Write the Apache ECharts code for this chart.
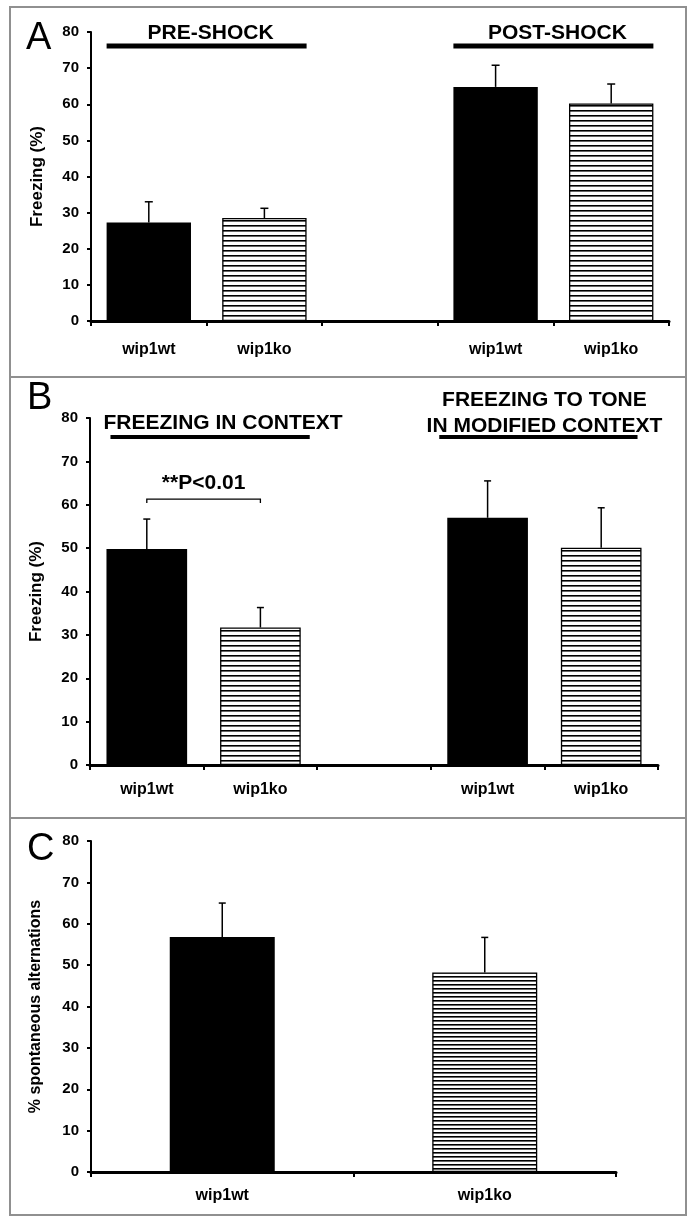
<!DOCTYPE html>
<html><head><meta charset="utf-8">
<script src="https://cdn.jsdelivr.net/npm/echarts@6/dist/echarts.min.js"></script>
<style>html,body{margin:0;padding:0;background:#fff}#c{width:689px;height:1218px}</style>
</head><body><div id="c"></div>
<script>
// ---- data ----
const groupsAB = ['wip1wt', 'wip1ko', '', 'wip1wt', 'wip1ko'];
const groupsC = ['wip1wt', 'wip1ko'];
const yTickLabels = ['0', '10', '20', '30', '40', '50', '60', '70', '80'];
const aMean = [27.3, 28.5, null, 64.8, 60.2];
const aErrTop = [33.0, 31.2, null, 70.8, 65.6];
const bMean = [49.8, 31.7, null, 57.0, 50.1];
const bErrTop = [56.7, 36.3, null, 65.5, 59.3];
const cMean = [56.8, 48.2];
const cErrTop = [65.0, 56.7];
const aHeaders = [[0, 1, 'PRE-SHOCK'], [3, 4, 'POST-SHOCK']];
const bHeaders = [[0, 1, 'FREEZING IN CONTEXT'], [3, 4, 'FREEZING TO TONE\nIN MODIFIED CONTEXT']];
const bSig = [[0, 1, '**P<0.01']];
const yTitleAB = 'Freezing (%)';
const yTitleC = '% spontaneous alternations';

// ---- layout tweaks (pixels, not data) ----
const aHeaderLayout = [{dx: 4, gap: 2, l: 0, r: 0}, {dx: 4, gap: 2, l: 0, r: 0}];
const bHeaderLayout = [{dx: 13, gap: 1, l: 4, r: 9}, {dx: 6, gap: -2, l: -8, r: -4}];

// ---- helpers ----
const FONT = '"Liberation Sans", Arial, Helvetica, sans-serif';
function hatch(period) {
  const c = document.createElement('canvas');
  c.width = 4; c.height = period;
  const g = c.getContext('2d');
  g.fillStyle = '#fff'; g.fillRect(0, 0, 4, period);
  g.fillStyle = '#000'; g.fillRect(0, 0, 4, 1);
  g.fillStyle = 'rgba(0,0,0,0.6)'; g.fillRect(0, 1, 4, 1);
  return c;
}
const hatchAB = hatch(5), hatchC = hatch(4);

function yAxis(gi, name, gap, nameSize) {
  return {
    gridIndex: gi, type: 'value', min: 0, max: 80, interval: 10,
    name: name, nameLocation: 'middle', nameRotate: 90, nameGap: gap,
    nameTextStyle: {fontFamily: FONT, fontWeight: 'bold', fontSize: nameSize, color: '#000'},
    axisLine: {show: true, lineStyle: {color: '#000', width: 2}},
    axisTick: {show: true, inside: false, length: 4, lineStyle: {color: '#000', width: 2}},
    axisLabel: {fontFamily: FONT, fontWeight: 'bold', fontSize: 15, color: '#000', margin: 12,
      formatter: (v) => yTickLabels[Math.round(v / 10)]},
    splitLine: {show: false}
  };
}
function xAxis(gi, cats, margin) {
  return {
    gridIndex: gi, type: 'category', data: cats,
    axisLine: {show: true, onZero: false, lineStyle: {color: '#000', width: 3}},
    axisTick: {show: true, length: 5, alignWithLabel: false, lineStyle: {color: '#000', width: 2}},
    axisLabel: {fontFamily: FONT, fontWeight: 'bold', fontSize: 16, color: '#000', margin: margin, interval: 0},
    splitLine: {show: false}
  };
}
function barSeries(gi, groups, mean, which, bw, pattern) {
  const data = groups.map((g, i) => (g === which ? mean[i] : null));
  const isWt = which === 'wip1wt';
  return {
    type: 'bar', xAxisIndex: gi, yAxisIndex: gi, data: data, barWidth: bw, barGap: '-100%',
    itemStyle: isWt ? {color: '#000'} :
      {color: {image: pattern, repeat: 'repeat'}, borderColor: '#000', borderWidth: 1.3},
    emphasis: {disabled: true}, silent: true, z: 2
  };
}
function errSeries(gi, mean, top, capW) {
  const data = [];
  mean.forEach((m, i) => { if (m != null) data.push([i, m, top[i]]); });
  return {
    type: 'custom', xAxisIndex: gi, yAxisIndex: gi, data: data, z: 3, silent: true,
    encode: {x: 0, y: [1, 2]},
    renderItem: function (params, api) {
      const i = api.value(0);
      const p0 = api.coord([i, api.value(1)]);
      const p1 = api.coord([i, api.value(2)]);
      const st = {stroke: '#000', lineWidth: 1.5};
      return {type: 'group', children: [
        {type: 'line', shape: {x1: p0[0], y1: p0[1], x2: p1[0], y2: p1[1]}, style: st},
        {type: 'line', shape: {x1: p1[0] - capW / 2, y1: p1[1], x2: p1[0] + capW / 2, y2: p1[1]}, style: st}
      ]};
    }
  };
}
function headerSeries(gi, headers, layout, barFrac, lineOff, lineW, lineH) {
  return {
    type: 'custom', xAxisIndex: gi, yAxisIndex: gi, silent: true, z: 4,
    data: headers.map((h) => ({value: [h[0], h[1]]})),
    encode: {x: [0, 1]},
    renderItem: function (params, api) {
      const h = headers[params.dataIndex];
      const L = layout[params.dataIndex];
      const bw = api.size([1, 0])[0] * barFrac;
      const a = api.coord([h[0], 80]);
      const b = api.coord([h[1], 80]);
      const x1 = a[0] - bw / 2 + L.l, x2 = b[0] + bw / 2 + L.r;
      const y = a[1] + lineOff;
      return {type: 'group', children: [
        {type: 'line', shape: {x1: x1, y1: y, x2: x2, y2: y}, style: {stroke: '#000', lineWidth: lineW}},
        {type: 'text', x: (x1 + x2) / 2 + L.dx, y: y - L.gap,
          style: {text: h[2], align: 'center', verticalAlign: 'bottom', lineHeight: lineH,
            font: 'bold 21px ' + FONT, fill: '#000'}}
      ]};
    }
  };
}
function sigSeries(gi, sigs, tops, rise) {
  return {
    type: 'custom', xAxisIndex: gi, yAxisIndex: gi, silent: true, z: 4,
    data: sigs.map((s) => ({value: [s[0], s[1]]})),
    encode: {x: [0, 1]},
    renderItem: function (params, api) {
      const s = sigs[params.dataIndex];
      const hi = Math.max(tops[s[0]], tops[s[1]]);
      const a = api.coord([s[0], hi]);
      const b = api.coord([s[1], hi]);
      const y = a[1] - rise;
      const st = {stroke: '#000', lineWidth: 1.3, fill: null};
      return {type: 'group', children: [
        {type: 'polyline', shape: {points: [[a[0], y + 4], [a[0], y], [b[0], y], [b[0], y + 4]]}, style: st},
        {type: 'text', x: (a[0] + b[0]) / 2, y: y - 5,
          style: {text: s[2], align: 'center', verticalAlign: 'bottom', font: 'bold 21px ' + FONT, fill: '#000'}}
      ]};
    }
  };
}

const chart = echarts.init(document.getElementById('c'), null, {renderer: 'canvas'});
const option = {
  backgroundColor: '#fff',
  animation: false,
  grid: [
    {left: 91, top: 32, width: 578, height: 289},
    {left: 90, top: 418, width: 568, height: 347},
    {left: 91, top: 841, width: 525, height: 331}
  ],
  xAxis: [xAxis(0, groupsAB, 21), xAxis(1, groupsAB, 17), xAxis(2, groupsC, 16)],
  yAxis: [yAxis(0, yTitleAB, 45, 17), yAxis(1, yTitleAB, 45, 17), yAxis(2, yTitleC, 47, 16)],
  series: [
    barSeries(0, groupsAB, aMean, 'wip1wt', '73%', hatchAB),
    barSeries(0, groupsAB, aMean, 'wip1ko', '73%', hatchAB),
    errSeries(0, aMean, aErrTop, 8),
    headerSeries(0, aHeaders, aHeaderLayout, 0.73, 14, 5, 22),
    barSeries(1, groupsAB, bMean, 'wip1wt', '71%', hatchAB),
    barSeries(1, groupsAB, bMean, 'wip1ko', '71%', hatchAB),
    errSeries(1, bMean, bErrTop, 7),
    headerSeries(1, bHeaders, bHeaderLayout, 0.71, 19, 4, 26),
    sigSeries(1, bSig, bErrTop, 20),
    barSeries(2, groupsC, cMean, 'wip1wt', '40%', hatchC),
    barSeries(2, groupsC, cMean, 'wip1ko', '40%', hatchC),
    errSeries(2, cMean, cErrTop, 7)
  ],
  graphic: [
    {type: 'rect', silent: true, shape: {x: 10, y: 7, width: 676, height: 1208},
      style: {fill: null, stroke: '#909090', lineWidth: 2}},
    {type: 'line', silent: true, shape: {x1: 10, y1: 377, x2: 686, y2: 377}, style: {stroke: '#909090', lineWidth: 2}},
    {type: 'line', silent: true, shape: {x1: 10, y1: 818, x2: 686, y2: 818}, style: {stroke: '#909090', lineWidth: 2}},
    {type: 'text', silent: true, x: 26, y: 39, style: {text: 'A', font: '38px ' + FONT, fill: '#000', verticalAlign: 'middle'}},
    {type: 'text', silent: true, x: 27, y: 399, style: {text: 'B', font: '38px ' + FONT, fill: '#000', verticalAlign: 'middle'}},
    {type: 'text', silent: true, x: 27, y: 850, style: {text: 'C', font: '38px ' + FONT, fill: '#000', verticalAlign: 'middle'}}
  ]
};
chart.setOption(option);
</script></body></html>
